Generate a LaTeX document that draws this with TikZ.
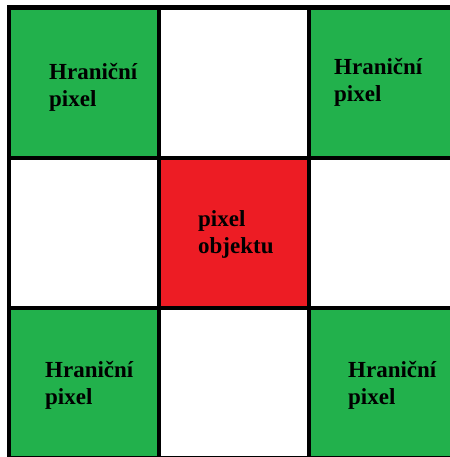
\documentclass[tikz,border=0pt]{standalone}
\usepackage{fontspec}
\setmainfont{Liberation Serif}
\definecolor{zelena}{RGB}{34,177,76}
\definecolor{cervena}{RGB}{237,28,36}
\begin{document}
\begin{tikzpicture}[x=1pt, y=-1pt,
		hranicni/.style={fill=zelena},
		objekt/.style={fill=cervena},
		mrizka/.style={line width=4.5pt, black},
		popis/.style={anchor=base west, inner sep=0pt, align=left, font=\fontsize{23}{27}\selectfont\bfseries}]
		\useasboundingbox (0,0) rectangle (449,457);
		\fill[hranicni] (9,7.5) rectangle (159,158);
		\fill[hranicni] (309,7.5) rectangle (459,158);
		\fill[objekt] (159,158) rectangle (309,308);
		\fill[hranicni] (9,308) rectangle (159,458);
		\fill[hranicni] (309,308) rectangle (459,458);
		\draw[mrizka] (9,7.5) rectangle (459,458);
		\foreach \x in {159,309}
			\draw[mrizka] (\x,7.5) -- (\x,458);
		\foreach \y in {158,308}
			\draw[mrizka] (9,\y) -- (459,\y);
		% base anchor sits on the last line
		\node[popis] (hl) at (49,107) {Hraniční\\pixel};
		\node[popis] (hp) at (334,102) {Hraniční\\pixel};
		\node[popis] (obj) at (198,253) {pixel\\objektu};
		\node[popis] (dl) at (45,404) {Hraniční\\pixel};
		\node[popis] (dp) at (348,404) {Hraniční\\pixel};
	\end{tikzpicture}
\end{document}
